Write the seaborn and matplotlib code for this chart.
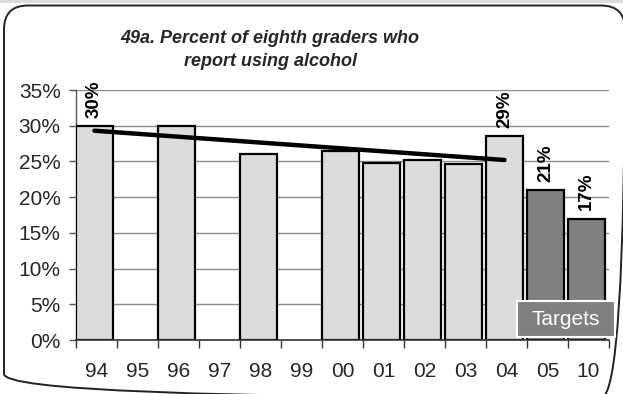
import numpy as np
import pandas as pd
import matplotlib
matplotlib.use("Agg")
import matplotlib.pyplot as plt
from matplotlib.patches import FancyBboxPatch, Rectangle
import seaborn as sns

# ---- data ----
years = ['94', '95', '96', '97', '98', '99', '00', '01', '02', '03', '04', '05', '10']
values = [30.0, np.nan, 30.0, np.nan, 26.0, np.nan, 26.4, 24.8, 25.2, 24.7, 28.5, 21.0, 17.0]
kinds = ['actual'] * 11 + ['target'] * 2
label_years = ['94', '04', '05', '10']
label_texts = ['30%', '29%', '21%', '17%']
trend_years = ['94', '04']
trend_values = [29.3, 25.2]
title = "49a. Percent of eighth graders who\nreport using alcohol"

sns.set_theme(style="white")
plt.rcParams['font.family'] = ['Liberation Sans', 'DejaVu Sans']

W, H = 623, 394
fig = plt.figure(figsize=(W / 100, H / 100), dpi=100)
fig.patch.set_facecolor('white')

# overlay in pixel units for frame decorations
bg = fig.add_axes([0, 0, 1, 1], zorder=0)
bg.set_xlim(0, W)
bg.set_ylim(H, 0)
bg.axis('off')
bg.add_patch(Rectangle((0, 0), W, 2.5, facecolor='#dcdcdc', edgecolor='none'))
bg.add_patch(FancyBboxPatch((4, 5.5), 625 - 4, 398 - 5.5,
                            boxstyle="round,pad=0,rounding_size=24",
                            facecolor='none', edgecolor='#222222', linewidth=1.4))

ax = fig.add_axes([76 / W, (H - 340) / H, 533 / W, 250 / H], zorder=1)
ax.set_facecolor('none')

df = pd.DataFrame({'year': years, 'value': values, 'kind': kinds}).dropna()
sns.barplot(data=df, x='year', y='value', hue='kind', order=years,
            hue_order=['actual', 'target'],
            palette={'actual': '#dcdcdc', 'target': '#808080'},
            dodge=False, width=0.9, edgecolor='black', linewidth=1.6,
            legend=False, ax=ax, zorder=3)

tx = [years.index(t) for t in trend_years]
sns.lineplot(x=tx, y=trend_values, color='black', linewidth=3.2, ax=ax,
             zorder=5, solid_capstyle='round')

vals = dict(zip(years, values))
for y_, t in zip(label_years, label_texts):
    i = years.index(y_)
    ax.text(i, vals[y_] + 1.15, t, rotation=90, ha='center', va='bottom',
            fontsize=13.5, fontweight='bold', color='black', zorder=6)

ax.set_ylim(0, 35)
ax.set_xlim(-0.45, 12.55)
ax.set_yticks(np.arange(0, 36, 5))
ax.set_yticklabels([f"{v}%" for v in range(0, 36, 5)])
ax.set_xticks([i + 0.05 for i in range(len(years))])
ax.set_xticklabels(years)
ax.set_xticks([i - 0.45 for i in range(len(years) + 1)], minor=True)
ax.tick_params(axis='x', which='major', length=0, pad=16, labelsize=15)
ax.tick_params(axis='x', which='minor', length=6, width=1, color='#333333',
               direction='out', bottom=True)
ax.tick_params(axis='y', length=5, width=1, color='#555555', direction='out',
               left=True, pad=6, labelsize=15)
ax.set_xlabel('')
ax.set_ylabel('')
ax.yaxis.grid(True, color='#8c8c8c', linewidth=1)
ax.set_axisbelow(True)
for s in ['top', 'right']:
    ax.spines[s].set_visible(False)
ax.spines['left'].set_color('#555555')
ax.spines['left'].set_linewidth(1)
ax.spines['bottom'].set_color('#333333')
ax.spines['bottom'].set_linewidth(1.2)
ax.spines['bottom'].set_zorder(4)

fig.text(270 / W, 1 - 50 / H, title, ha='center', va='center',
         fontsize=13, fontweight='bold', fontstyle='italic',
         linespacing=1.45, multialignment='center')

# Targets box (overlay above the bars)
top = fig.add_axes([0, 0, 1, 1], zorder=2)
top.set_xlim(0, W)
top.set_ylim(H, 0)
top.axis('off')
top.add_patch(Rectangle((517, 301), 98, 36, facecolor='#808080',
                        edgecolor='white', linewidth=1.5))
top.text(566, 319.5, 'Targets', ha='center', va='center',
         fontsize=15, color='white')

fig.savefig('out.png', dpi=100)
